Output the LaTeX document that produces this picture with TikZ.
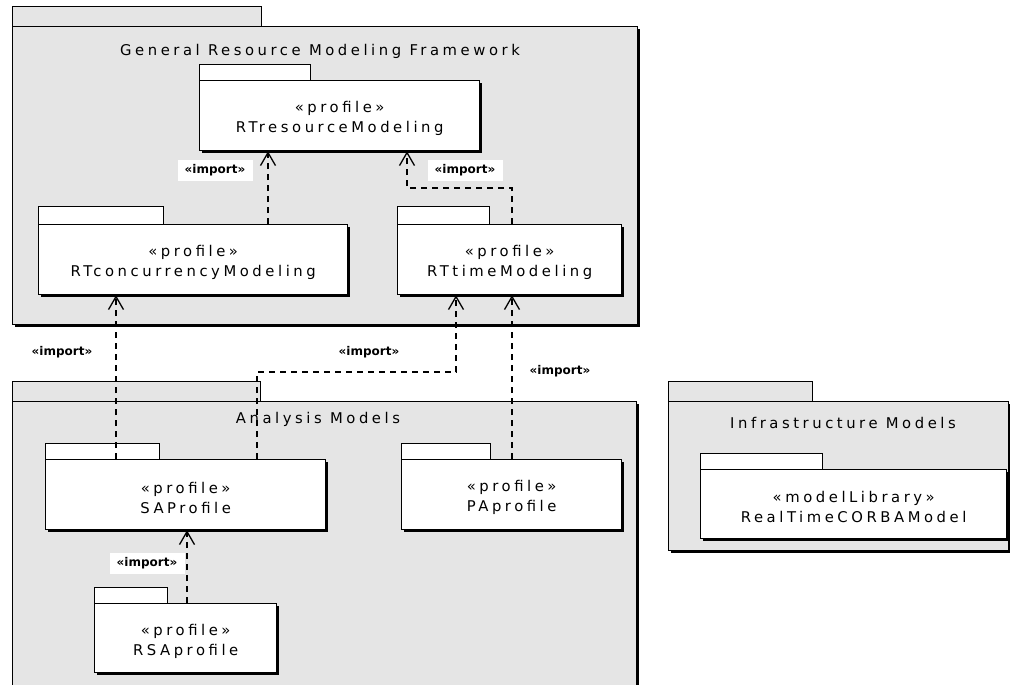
\documentclass[tikz,border=0pt]{standalone}
\usepackage{fontspec}
\setmainfont{DejaVu Sans}
\newfontfamily\pkgfont[LetterSpace=24]{DejaVu Sans}
\newfontfamily\impfont{DejaVu Sans}
\usetikzlibrary{arrows.meta,shadows,calc}
\definecolor{pkggray}{RGB}{229,229,229}
\newcommand\pkgstrut{\rule{0pt}{17pt}}
\tikzset{
 body/.style={draw=black, line width=1.3pt, anchor=north west, inner sep=0pt,
   drop shadow={shadow xshift=2.2pt, shadow yshift=-2.2pt, fill=black, opacity=1}},
 outerbody/.style={body, fill=pkggray},
 innerbody/.style={body, fill=white, font=\pkgfont\fontsize{14.8}{20}\selectfont, align=center},
 pkgtab/.style={draw=black, line width=1.1pt, anchor=north west, inner sep=0pt},
 outertab/.style={pkgtab, fill=pkggray},
 innertab/.style={pkgtab, fill=white},
 pkgtitle/.style={font=\pkgfont\fontsize{14.8}{18}\selectfont, inner sep=0pt},
 imp/.style={draw=black, line width=1.8pt, dash pattern=on 6pt off 5pt,
   -{Straight Barb[length=13pt,width=15pt,line width=1.3pt]}},
 implabel/.style={fill=white, font=\impfont\bfseries\fontsize{12}{13}\selectfont,
   inner sep=0pt, minimum width=75pt, minimum height=21pt},
}
\begin{document}
\begin{tikzpicture}[x=1pt,y=-1pt]
\useasboundingbox (0,0) rectangle (1010,685);
\fill[white] (0,0) rectangle (1010,685);
\clip (0,0) rectangle (1010,685);

% ---------- General Resource Modeling Framework ----------
\node[outertab, minimum width=249pt, minimum height=20pt] (grmftab) at (12,6) {};
\node[outerbody, minimum width=625pt, minimum height=298pt] (grmf) at (12,26) {};
\node[pkgtitle] (grmftitle) at (320,51) {General Resource Modeling Framework};

\node[innertab, minimum width=111pt, minimum height=16pt] (restab) at (199,64) {};
\node[innerbody, minimum width=280pt, minimum height=70pt] (res) at (199,80) {\pkgstrut«profile»\\RTresourceModeling};

\node[innertab, minimum width=125pt, minimum height=18pt] (conctab) at (38,206) {};
\node[innerbody, minimum width=309pt, minimum height=70pt] (conc) at (38,224) {\pkgstrut«profile»\\RTconcurrencyModeling};

\node[innertab, minimum width=92pt, minimum height=18pt] (timetab) at (397,206) {};
\node[innerbody, minimum width=224pt, minimum height=70pt] (time) at (397,224) {\pkgstrut«profile»\\RTtimeModeling};

% ---------- Analysis Models ----------
\node[outertab, minimum width=248pt, minimum height=20pt] (antab) at (12,381) {};
\node[outerbody, minimum width=624pt, minimum height=320pt] (an) at (12,401) {};
\node[pkgtitle] (antitle) at (318,419) {Analysis Models};

\node[innertab, minimum width=114pt, minimum height=16pt] (satab) at (45,443) {};
\node[innerbody, minimum width=280pt, minimum height=70pt] (sa) at (45,459) {\pkgstrut«profile»\\SAProfile};

\node[innertab, minimum width=89pt, minimum height=16pt] (patab) at (401,443) {};
\node[innerbody, minimum width=220pt, minimum height=70pt] (pa) at (401,459) {\pkgstrut«profile»\\PAprofile};

\node[innertab, minimum width=73pt, minimum height=16pt] (rsatab) at (94,587) {};
\node[innerbody, minimum width=182pt, minimum height=69pt] (rsa) at (94,603) {\pkgstrut«profile»\\RSAprofile};

% ---------- Infrastructure Models ----------
\node[outertab, minimum width=144pt, minimum height=20pt] (inftab) at (668,381) {};
\node[outerbody, minimum width=340pt, minimum height=149pt] (inf) at (668,401) {};
\node[pkgtitle] (inftitle) at (843,423) {Infrastructure Models};

\node[innertab, minimum width=122pt, minimum height=16pt] (corbatab) at (700,453) {};
\node[innerbody, minimum width=306pt, minimum height=69pt] (corba) at (700,469) {\pkgstrut«modelLibrary»\\RealTimeCORBAModel};

% ---------- import dependencies ----------
\coordinate (xa) at (268,0);
\coordinate (xb) at (512,0);
\coordinate (kb) at (407,188);
\coordinate (xc) at (116,0);
\coordinate (xd) at (257,0);
\coordinate (kd) at (456,372);
\coordinate (xf) at (187,0);

\draw[imp] (conc.north -| xa) -- (res.south -| xa);
\draw[imp] (time.north -| xb) |- (kb) -- (res.south -| kb);
\draw[imp] (sa.north -| xc) -- (conc.south -| xc);
\draw[imp] (sa.north -| xd) |- (kd) -- (time.south -| kd);
\draw[imp] (pa.north -| xb) -- (time.south -| xb);
\draw[imp] (rsa.north -| xf) -- (sa.south -| xf);

\node[implabel] (la) at (215,170) {«import»};
\node[implabel] (lb) at (465,170) {«import»};
\node[implabel] (lc) at (62,352) {«import»};
\node[implabel] (ld) at (369,352) {«import»};
\node[implabel] (le) at (560,371) {«import»};
\node[implabel] (lf) at (147,563) {«import»};
\end{tikzpicture}
\end{document}
